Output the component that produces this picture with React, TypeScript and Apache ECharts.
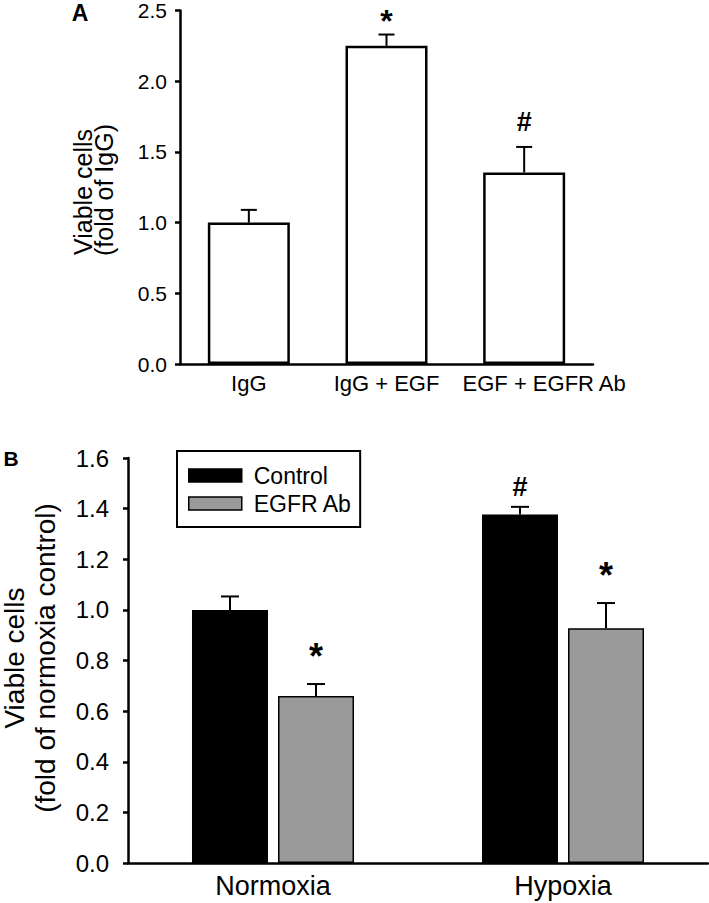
import React, { useEffect, useRef } from "react";
import * as echarts from "echarts";

// ---------- Panel A data ----------
const catsA = ["IgG", "IgG + EGF", "EGF + EGFR Ab"];
const meanA = [1.0, 2.25, 1.355];
const errA = [0.09, 0.08, 0.18];
const markA = ["", "*", "#"];

// ---------- Panel B data ----------
const catsB = ["Normoxia", "Hypoxia"];
const seriesNamesB = ["Control", "EGFR Ab"];
const controlMean = [1.0, 1.377];
const controlErr = [0.053, 0.03];
const controlMark = ["", "#"];
const egfrMean = [0.66, 0.927];
const egfrErr = [0.047, 0.1];
const egfrMark = ["*", "*"];

const FONT = "'Liberation Sans', Arial, Helvetica, sans-serif";

const BAR_W_A = 82;
const BAR_W_B = 76;
const BAR_GAP_B = 10;

function errSeries(
  xIdx: number,
  yIdx: number,
  means: number[],
  errs: number[],
  marks: string[],
  offset: number,
  capHalf: number,
  markStyle: { [k: string]: { size: number; lift: number } }
) {
  return {
    type: "custom",
    xAxisIndex: xIdx,
    yAxisIndex: yIdx,
    z: 5,
    silent: true,
    data: means.map((m, i) => [i, m, errs[i]]),
    renderItem: (params: any, api: any) => {
      const i = api.value(0);
      const m = api.value(1);
      const e = api.value(2);
      const base = api.coord([i, m]);
      const top = api.coord([i, m + e]);
      const x = base[0] + offset;
      const children: any[] = [
        {
          type: "line",
          shape: { x1: x, y1: base[1], x2: x, y2: top[1] },
          style: { stroke: "#000", lineWidth: 2 },
        },
        {
          type: "line",
          shape: { x1: x - capHalf, y1: top[1], x2: x + capHalf, y2: top[1] },
          style: { stroke: "#000", lineWidth: 2 },
        },
      ];
      const mk = marks[params.dataIndex];
      if (mk) {
        const st = markStyle[mk];
        children.push({
          type: "text",
          x: x,
          y: top[1] - st.lift,
          style: {
            text: mk,
            fill: "#000",
            fontSize: st.size,
            fontWeight: "bold",
            fontFamily: FONT,
            align: "center",
            verticalAlign: "middle",
            textAlign: "center",
            textVerticalAlign: "middle",
          },
        });
      }
      return { type: "group", children };
    },
  };
}

function vText(text: string, x: number, y: number, size: number) {
  return {
    type: "text",
    x,
    y,
    rotation: Math.PI / 2,
    style: {
      text,
      fill: "#000",
      fontSize: size,
      lineHeight: size,
      fontFamily: FONT,
      align: "center",
      verticalAlign: "middle",
    },
  };
}

export default function App() {
  const ref = useRef<HTMLDivElement>(null);

  useEffect(() => {
    if (!ref.current) return;
    const chart = echarts.init(ref.current, undefined, { renderer: "svg" });

    const axisLine = { show: true, lineStyle: { color: "#000", width: 2.5 } };
    const axisTick = { show: true, length: 5, lineStyle: { color: "#000", width: 2.5 } };

    const option: any = {
      animation: false,
      backgroundColor: "#fff",
      textStyle: { fontFamily: FONT },
      grid: [
        { left: 180, top: 6, width: 413, height: 358 },
        { left: 128, top: 458, width: 580, height: 405 },
      ],
      xAxis: [
        {
          type: "category",
          gridIndex: 0,
          data: catsA.map((c, i) =>
            i === 2 ? { value: c, textStyle: { padding: [0, 0, 0, 40] } } : c
          ),
          axisLine,
          axisTick: { show: false },
          axisLabel: { interval: 0, color: "#000", fontSize: 22, fontFamily: FONT, margin: 8 },
        },
        {
          type: "category",
          gridIndex: 1,
          data: catsB,
          axisLine,
          axisTick: { show: false },
          axisLabel: { interval: 0, color: "#000", fontSize: 27, fontFamily: FONT, margin: 9 },
        },
      ],
      yAxis: [
        {
          type: "value",
          gridIndex: 0,
          min: 0,
          max: 2.5,
          interval: 0.5,
          axisLine,
          axisTick,
          splitLine: { show: false },
          axisLabel: {
            color: "#000",
            fontSize: 21,
            fontFamily: FONT,
            margin: 13,
            formatter: (v: number) => v.toFixed(1),
          },
        },
        {
          type: "value",
          gridIndex: 1,
          min: 0,
          max: 1.6,
          interval: 0.2,
          axisLine,
          axisTick,
          splitLine: { show: false },
          axisLabel: {
            color: "#000",
            fontSize: 24,
            fontFamily: FONT,
            margin: 19,
            formatter: (v: number) => v.toFixed(1),
          },
        },
      ],
      legend: {
        data: seriesNamesB,
        orient: "vertical",
        left: 177,
        top: 451,
        itemWidth: 53,
        itemHeight: 13,
        itemGap: 5,
        padding: [13, 8, 12, 11],
        borderColor: "#000",
        borderWidth: 2,
        icon: "rect",
        selectedMode: false,
        itemStyle: { borderColor: "#000", borderWidth: 1.5 },
        textStyle: { fontSize: 23, color: "#000", fontFamily: FONT, padding: [0, 0, 0, 7] },
      },
      series: [
        {
          type: "bar",
          name: "A",
          xAxisIndex: 0,
          yAxisIndex: 0,
          data: meanA,
          barWidth: BAR_W_A,
          itemStyle: { color: "#fff", borderColor: "#000", borderWidth: 2.5 },
        },
        {
          type: "bar",
          name: seriesNamesB[0],
          xAxisIndex: 1,
          yAxisIndex: 1,
          data: controlMean,
          barWidth: BAR_W_B,
          barGap: ((BAR_GAP_B / BAR_W_B) * 100).toFixed(1) + "%",
          itemStyle: { color: "#000", borderColor: "#000", borderWidth: 1.5 },
        },
        {
          type: "bar",
          name: seriesNamesB[1],
          xAxisIndex: 1,
          yAxisIndex: 1,
          data: egfrMean,
          barWidth: BAR_W_B,
          barGap: ((BAR_GAP_B / BAR_W_B) * 100).toFixed(1) + "%",
          itemStyle: { color: "#9a9a9a", borderColor: "#000", borderWidth: 1.5 },
        },
        errSeries(0, 0, meanA, errA, markA, 0, 8, {
          "*": { size: 32, lift: 14 },
          "#": { size: 27, lift: 25 },
        }),
        errSeries(1, 1, controlMean, controlErr, controlMark, -(BAR_W_B + BAR_GAP_B) / 2, 9, {
          "*": { size: 36, lift: 28 },
          "#": { size: 27, lift: 20 },
        }),
        errSeries(1, 1, egfrMean, egfrErr, egfrMark, (BAR_W_B + BAR_GAP_B) / 2, 9, {
          "*": { size: 36, lift: 28 },
          "#": { size: 27, lift: 20 },
        }),
      ],
      graphic: [
        {
          type: "text",
          x: 80,
          y: 13,
          style: {
            text: "A",
            fill: "#000",
            fontSize: 23,
            fontWeight: "bold",
            fontFamily: FONT,
            align: "center",
            verticalAlign: "middle",
          },
        },
        {
          type: "text",
          x: 11,
          y: 458,
          style: {
            text: "B",
            fill: "#000",
            fontSize: 21,
            fontWeight: "bold",
            fontFamily: FONT,
            align: "center",
            verticalAlign: "middle",
          },
        },
        vText("Viable cells", 83, 192, 25),
        vText("(fold of IgG)", 104, 190, 25),
        vText("Viable cells", 14, 658, 28),
        vText("(fold of normoxia control)", 45, 658, 28),
      ],
    };

    chart.setOption(option);
    return () => chart.dispose();
  }, []);

  return (
    <div
      ref={ref}
      style={{ position: "fixed", left: 0, top: 0, width: 709, height: 903, background: "#fff" }}
    />
  );
}
